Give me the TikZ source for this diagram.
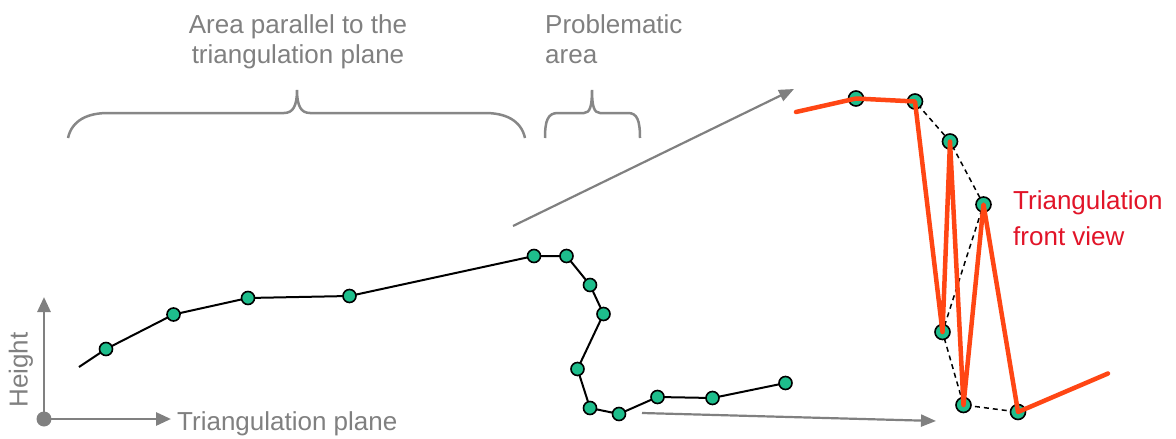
\documentclass[tikz,border=0pt]{standalone}
\usepackage{fontspec}
\setmainfont{Liberation Sans}
\usetikzlibrary{arrows.meta}

\definecolor{axisgray}{RGB}{128,128,128}
\definecolor{bracegray}{RGB}{135,135,135}
\definecolor{dotgreen}{RGB}{30,190,140}
\definecolor{meshred}{RGB}{255,70,20}
\definecolor{labelred}{RGB}{225,20,40}

\tikzset{
  lbl/.style={inner sep=0pt, text=axisgray, font=\fontsize{26}{30}\selectfont},
  redlbl/.style={inner sep=0pt, text=labelred, font=\fontsize{26}{36}\selectfont, align=left},
  pt/.style={circle, draw=black, fill=dotgreen, line width=1.6pt, minimum size=13pt, inner sep=0pt},
  bigpt/.style={pt, minimum size=15pt},
  profile/.style={black, line width=2pt},
  mesh/.style={meshred, line width=4.5pt, line join=round, line cap=round},
  hull/.style={black, line width=1.5pt, dash pattern=on 5pt off 4pt},
  brace/.style={bracegray, line width=2.5pt},
  garrow/.style={axisgray, line width=2.8pt, -{Triangle[length=15pt,width=13pt]}},
  gline/.style={axisgray, line width=2.2pt, -{Triangle[length=15pt,width=12pt]}}
}

\begin{document}
\begin{tikzpicture}[x=1pt,y=-1pt]
\useasboundingbox (0,0) rectangle (1176,439);

% ---- labels ----
\node[lbl, align=center, anchor=north] (parlabel) at (298,14.5) {Area parallel to the\\triangulation plane};
\node[lbl, align=left, anchor=north west] (problabel) at (545,14.5) {Problematic\\area};
\node[redlbl, anchor=north west] (frontlabel) at (1013,190) {Triangulation\\front view};

% ---- braces ----
\draw[brace] (68,138) .. controls (72,120) and (88,113) .. (108,113) -- (284,113)
  .. controls (293,113) and (297,106) .. (297,90)
  .. controls (297,106) and (301,113) .. (310,113) -- (485,113)
  .. controls (505,113) and (521,120) .. (525,138);
\draw[brace] (545,138) .. controls (545,120) and (548,113) .. (558,113) -- (584,113)
  .. controls (590,113) and (592,106) .. (592,90)
  .. controls (592,106) and (594,113) .. (600,113) -- (628,113)
  .. controls (637,113) and (640,120) .. (640,138);

% ---- axes ----
\node[circle, fill=axisgray, minimum size=15pt, inner sep=0pt] (origin) at (44,419) {};
\coordinate (yend) at (44,297);
\coordinate (xend) at (171,419);
\draw[garrow] (origin.center) -- (yend);
\draw[garrow] (origin.center) -- (xend);
\node[lbl, rotate=90] (heightlabel) at (21,370) {Height};
\node[lbl, anchor=base west] (planelabel) at (177,430) {Triangulation plane};

% ---- terrain profile ----
\coordinate (s0) at (79,367);
\coordinate (p1) at (106,349);
\coordinate (p2) at (173.5,314.5);
\coordinate (p3) at (248,298);
\coordinate (p4) at (349.5,296);
\coordinate (p5) at (534,256);
\coordinate (p6) at (566.5,256);
\coordinate (p7) at (590,285);
\coordinate (p8) at (603.5,314);
\coordinate (p9) at (577.5,369);
\coordinate (p10) at (590,408);
\coordinate (p11) at (619,414);
\coordinate (p12) at (657.5,397);
\coordinate (p13) at (712.5,398);
\coordinate (p14) at (785.5,383);
\draw[profile] (s0) -- (p1) -- (p2) -- (p3) -- (p4) -- (p5) -- (p6) -- (p7) -- (p8)
  -- (p9) -- (p10) -- (p11) -- (p12) -- (p13) -- (p14);
\foreach \i in {1,...,14} \node[pt] (d\i) at (p\i) {};

% ---- projection arrows ----
\coordinate (diagstart) at (513,226);
\coordinate (diagend) at (794,89);
\draw[gline] (diagstart) -- (diagend);
\coordinate (lowstart) at (642,413);
\coordinate (lowend) at (936,421);
\draw[gline] (lowstart) -- (lowend);

% ---- front view of the triangulation ----
\coordinate (qa) at (856,98.5);
\coordinate (qb) at (915,101.5);
\coordinate (qc) at (950,141.5);
\coordinate (qd) at (983.5,204.5);
\coordinate (qe) at (942.5,332);
\coordinate (qf) at (963.5,405);
\coordinate (qg) at (1018,412);
\coordinate (mstart) at (796,112);
\coordinate (mend) at (1108,373.5);
\draw[hull] (qa) -- (qb) -- (qc) -- (qd) -- (qe) -- (qf) -- (qg);
\foreach \q in {a,b,c,d,e,f,g} \node[bigpt] (f\q) at (q\q) {};
\draw[mesh] (mstart) -- (qa) -- (qb) -- (qe) -- (qc) -- (qf) -- (qd) -- (qg) -- (mend);
\end{tikzpicture}
\end{document}
